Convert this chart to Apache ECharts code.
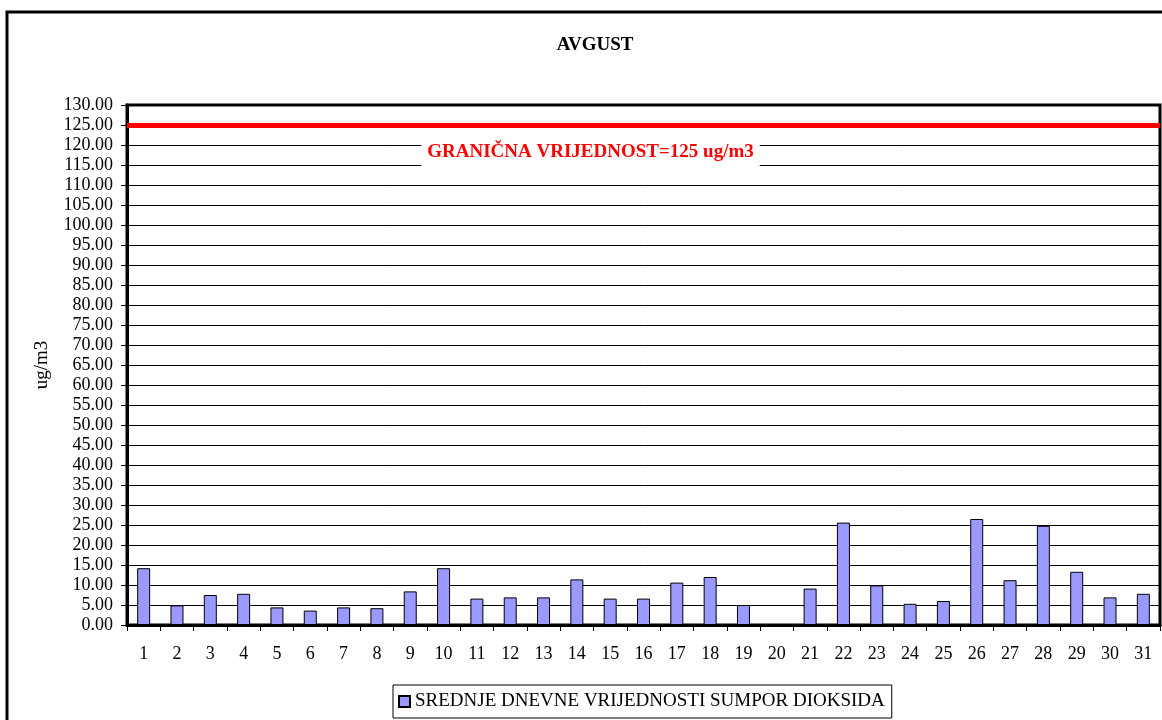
<!DOCTYPE html>
<html>
<head>
<meta charset="utf-8">
<script src="https://cdn.jsdelivr.net/npm/echarts@6/dist/echarts.min.js"></script>
<style>html,body{margin:0;padding:0;background:#fff;}#c{width:1162px;height:720px;}</style>
</head>
<body>
<div id="c"></div>
<script>
const categories = ['1','2','3','4','5','6','7','8','9','10','11','12','13','14','15','16','17','18','19','20','21','22','23','24','25','26','27','28','29','30','31'];
const so2Values = [14.2,4.9,7.5,7.8,4.4,3.6,4.4,4.2,8.4,14.2,6.6,6.9,6.9,11.4,6.6,6.6,10.6,12.0,5.0,null,9.1,25.6,9.9,5.3,6.0,26.5,11.2,24.8,13.3,6.9,7.8];
const limitValue = 125;
const limitLabel = 'GRANIČNA VRIJEDNOST=125 ug/m3';
const seriesName = 'SREDNJE DNEVNE VRIJEDNOSTI SUMPOR DIOKSIDA';
const titleText = 'AVGUST';
const yName = 'ug/m3';

const serif = '"Liberation Serif", "DejaVu Serif", serif';
const chart = echarts.init(document.getElementById('c'));
chart.setOption({
  animation: false,
  backgroundColor: '#fff',
  graphic: [{
    type: 'rect', silent: true, z: -1,
    shape: {x: 7, y: 12, width: 1180, height: 730},
    style: {fill: 'none', stroke: '#000', lineWidth: 3}
  }],
  title: {
    text: titleText, left: 590, top: 31, textAlign: 'center',
    textStyle: {fontFamily: serif, fontSize: 19, fontWeight: 'bold', color: '#000'}
  },
  grid: {left: 127, right: 2, top: 105, bottom: 95, show: true, borderColor: '#000', borderWidth: 3, backgroundColor: 'transparent'},
  legend: {
    bottom: 2, left: 393, itemWidth: 11, itemHeight: 11, itemGap: 6,
    borderColor: '#000', borderWidth: 1, padding: [7, 7, 7, 5], borderRadius: 0,
    textStyle: {fontFamily: serif, fontSize: 19, color: '#000'},
    data: [{name: seriesName, icon: 'rect'}]
  },
  xAxis: {
    type: 'category', data: categories, boundaryGap: true,
    axisLine: {lineStyle: {color: '#000', width: 3}},
    axisTick: {show: true, length: 6, lineStyle: {color: '#000', width: 1}},
    axisLabel: {fontFamily: serif, fontSize: 18, color: '#000', margin: 20},
    splitLine: {show: false}
  },
  yAxis: {
    type: 'value', min: 0, max: 130, interval: 5,
    name: yName, nameLocation: 'middle', nameGap: 75, nameRotate: 90,
    nameTextStyle: {fontFamily: serif, fontSize: 19, color: '#000'},
    axisLine: {show: true, lineStyle: {color: '#000', width: 3}},
    axisTick: {show: true, length: 6, lineStyle: {color: '#000', width: 1}},
    axisLabel: {fontFamily: serif, fontSize: 18, color: '#000', margin: 14, formatter: v => v.toFixed(2)},
    splitLine: {show: true, lineStyle: {color: '#000', width: 1}}
  },
  series: [{
    name: seriesName, type: 'bar', data: so2Values, barWidth: 13,
    itemStyle: {color: '#9999ff', borderColor: '#000', borderWidth: 1},
    markLine: {
      silent: true, symbol: 'none',
      lineStyle: {color: '#ff0000', width: 5, type: 'solid'},
      label: {
        show: true, position: 'insideMiddleBottom', formatter: limitLabel,
        color: '#ff0000', fontFamily: serif, fontSize: 19, fontWeight: 'bold',
        backgroundColor: '#fff', padding: [7, 6, 7, 6], distance: 11, offset: [-53, 0]
      },
      data: [{yAxis: limitValue}]
    }
  }]
});
</script>
</body>
</html>
